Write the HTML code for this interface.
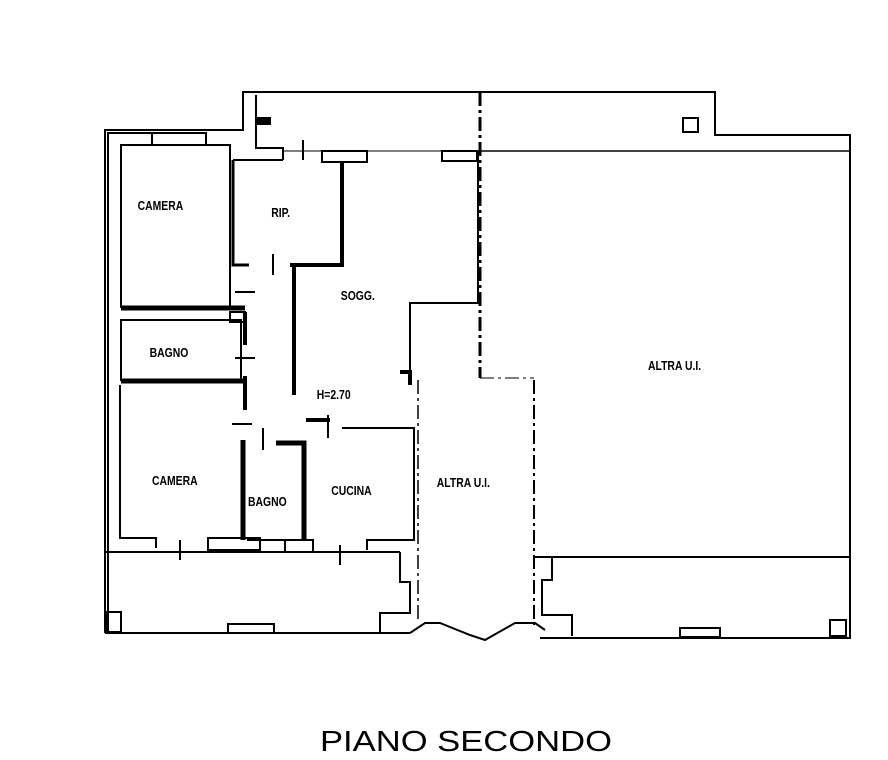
<!DOCTYPE html>
<html><head><style>body{margin:0;background:#fff}svg{display:block}text{font-family:"Liberation Sans",sans-serif}</style></head>
<body>
<svg width="888" height="760" viewBox="0 0 888 760" xmlns="http://www.w3.org/2000/svg">
<g fill="none" stroke="#000" stroke-width="2">
<polyline points="105,633 105,130 243,130 243,92 715,92 715,135 850,135 850,638 540,638"/>
<polyline points="108,633 108,133 155,133"/>
<line x1="105" y1="633" x2="410" y2="633"/>
<polyline points="256,95 256,148 283,148 283,160"/>
<line x1="283" y1="151" x2="480" y2="151" stroke-width="1"/>
<line x1="480" y1="151" x2="850" y2="151" stroke-width="1.5"/>
<line x1="480" y1="92" x2="480" y2="378" stroke-width="3" stroke-dasharray="14,4,3,4"/>
<rect x="322" y="151" width="45" height="11"/>
<rect x="442" y="151" width="35" height="10"/>
<rect x="258" y="118" width="12" height="6" fill="#000"/>
<rect x="683" y="118" width="15" height="14"/>
<rect x="121" y="145" width="109" height="162"/>
<rect x="152" y="133" width="54" height="12"/>
<polyline points="233,160 233,265 249,265" stroke-width="3"/>
<polyline points="290,265 342,265 342,163" stroke-width="4"/>
<line x1="233" y1="160" x2="283" y2="160"/>
<line x1="294" y1="265" x2="294" y2="395" stroke-width="4"/>
<line x1="121" y1="308" x2="245" y2="308" stroke-width="5"/>
<line x1="245" y1="312" x2="245" y2="345" stroke-width="4"/>
<line x1="121" y1="381" x2="245" y2="381" stroke-width="5"/>
<line x1="245" y1="376" x2="245" y2="410" stroke-width="4"/>
<rect x="230" y="312" width="15" height="10"/>
<rect x="121" y="320" width="120" height="60"/>
<polyline points="120,385 120,538 156,538 156,548"/>
<line x1="243" y1="440" x2="243" y2="540" stroke-width="5"/>
<polyline points="276,443 304,443 304,540" stroke-width="5"/>
<line x1="247" y1="540" x2="304" y2="540"/>
<rect x="208" y="538" width="52" height="12"/>
<rect x="285" y="540" width="28" height="12"/>
<polyline points="342,428 414,428 414,540 367,540 367,550"/>
<line x1="306" y1="420" x2="330" y2="420" stroke-width="4"/>
<polyline points="478,151 478,303 410,303 410,380"/>
<polyline points="400,372 410,372 410,385" stroke-width="4"/>
<line x1="105" y1="552" x2="400" y2="552" stroke-width="2"/>
<polyline points="400,552 400,582 410,582 410,613 380,613 380,633"/>
<rect x="107" y="612" width="14" height="20"/>
<rect x="228" y="624" width="46" height="9"/>
<polyline points="410,633 425,623 440,623 470,635 485,640 515,623 535,623 545,630"/>
<line x1="418" y1="380" x2="418" y2="623" stroke-width="1.5" stroke-dasharray="14,4,3,4"/>
<line x1="534" y1="380" x2="534" y2="625" stroke-width="2" stroke-dasharray="14,4,3,4"/>
<line x1="480" y1="378" x2="534" y2="378" stroke-width="1" stroke-dasharray="14,4,3,4"/>
<line x1="534" y1="557" x2="850" y2="557"/>
<polyline points="552,557 552,580 542,580 542,615 572,615 572,636"/>
<rect x="680" y="628" width="40" height="9"/>
<rect x="830" y="620" width="16" height="16"/>
<line x1="303" y1="140" x2="303" y2="160"/>
<line x1="273" y1="254" x2="273" y2="275"/>
<line x1="235" y1="292" x2="255" y2="292"/>
<line x1="235" y1="358" x2="255" y2="358"/>
<line x1="232" y1="424" x2="252" y2="424"/>
<line x1="263" y1="428" x2="263" y2="450"/>
<line x1="328" y1="415" x2="328" y2="438"/>
<line x1="180" y1="540" x2="180" y2="560"/>
<line x1="340" y1="545" x2="340" y2="565"/>
</g>
<g font-size="13" fill="#000" font-weight="bold" transform="scale(0.8,1)">
<text x="172" y="210">CAMERA</text>
<text x="339" y="217">RIP.</text>
<text x="426" y="300">SOGG.</text>
<text x="187" y="357">BAGNO</text>
<text x="396" y="399">H=2.70</text>
<text x="190" y="485">CAMERA</text>
<text x="310" y="506">BAGNO</text>
<text x="414" y="495">CUCINA</text>
<text x="546" y="487">ALTRA U.I.</text>
<text x="810" y="370">ALTRA U.I.</text>
</g>
<text x="320" y="751" font-size="29" fill="#000" textLength="292" lengthAdjust="spacingAndGlyphs">PIANO SECONDO</text>
</svg>
</body></html>
